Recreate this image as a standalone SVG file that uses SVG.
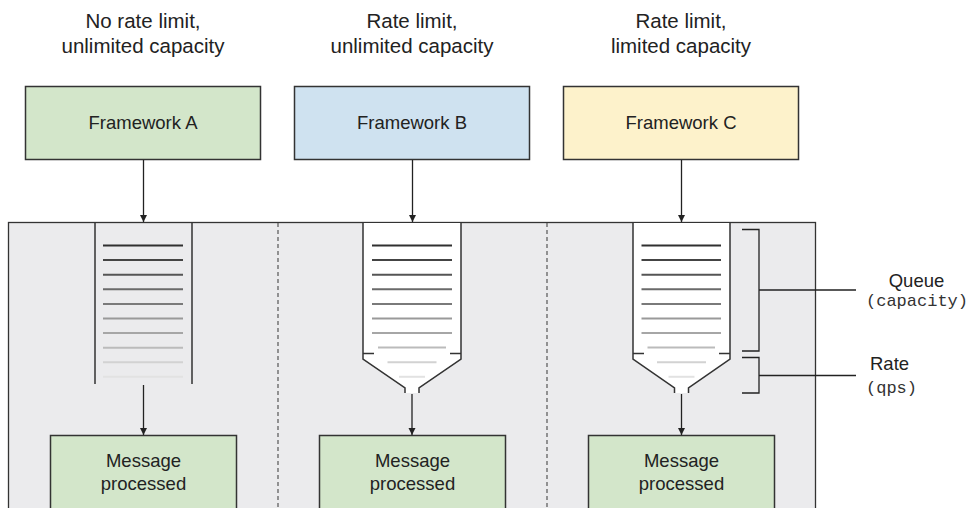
<svg xmlns="http://www.w3.org/2000/svg" width="971" height="508" viewBox="0 0 971 508">
<defs>
<style>
.hdr{font-family:"Liberation Sans",Arial,sans-serif;font-size:20.5px;fill:#222;text-anchor:middle}
.lbl{font-family:"Liberation Sans",Arial,sans-serif;font-size:18.5px;fill:#222;text-anchor:middle}
.side{font-family:"Liberation Sans",Arial,sans-serif;font-size:18.5px;fill:#222}
.mono{font-family:"Liberation Mono","Courier New",monospace;font-size:17px;fill:#333}
.box{stroke:#333;stroke-width:1.5}
.wall{fill:none;stroke:#333;stroke-width:1.5}
.conn{stroke:#222;stroke-width:1.3;fill:none}
.dash{stroke:#555;stroke-width:1.2;stroke-dasharray:4 3}
.l1{stroke:#303030;stroke-width:2}.l2{stroke:#444;stroke-width:2}.l3{stroke:#555;stroke-width:2}
.l4{stroke:#6a6a6a;stroke-width:2}.l5{stroke:#7a7a7a;stroke-width:2}.l6{stroke:#999;stroke-width:2}
.l7{stroke:#a6a6a6;stroke-width:2}.l8{stroke:#bbb;stroke-width:2}.l9{stroke:#d2d2d2;stroke-width:2}
.l10{stroke:#e2e2e2;stroke-width:2}
</style>
<marker id="ah" viewBox="0 0 10 10" refX="10" refY="5" markerWidth="7" markerHeight="9" markerUnits="userSpaceOnUse" orient="auto">
<path d="M0,0 L10,5 L0,10 z" fill="#222"/>
</marker>
</defs>
<rect width="971" height="508" fill="#fff"/>

<!-- headers -->
<g id="header-a"><text class="hdr" x="143" y="28">No rate limit,</text><text class="hdr" x="143" y="53">unlimited capacity</text></g>
<g id="header-b"><text class="hdr" x="412" y="28">Rate limit,</text><text class="hdr" x="412" y="53">unlimited capacity</text></g>
<g id="header-c"><text class="hdr" x="681" y="28">Rate limit,</text><text class="hdr" x="681" y="53">limited capacity</text></g>

<!-- framework boxes -->
<g id="framework-a"><rect class="box" x="25.5" y="86.5" width="235" height="73" fill="#d3e6ca"/><text class="lbl" x="143" y="129">Framework A</text></g>
<g id="framework-b"><rect class="box" x="294.5" y="86.5" width="235" height="73" fill="#cfe2f0"/><text class="lbl" x="412" y="129">Framework B</text></g>
<g id="framework-c"><rect class="box" x="563.5" y="86.5" width="235" height="73" fill="#fdf2cb"/><text class="lbl" x="681" y="129">Framework C</text></g>

<!-- panel -->
<g id="panel">
<rect x="8.5" y="222.5" width="807" height="300" fill="#ebebed" stroke="#333" stroke-width="1.3"/>
<line class="dash" x1="278" y1="223" x2="278" y2="508"/>
<line class="dash" x1="547" y1="223" x2="547" y2="508"/>
</g>

<!-- queue A -->
<g id="queue-a">
<path class="wall" d="M95,223 V384 M192,223 V384"/>
<line class="l1" x1="103" y1="245.5" x2="183" y2="245.5"/>
<line class="l2" x1="103" y1="260" x2="183" y2="260"/>
<line class="l3" x1="103" y1="274.7" x2="183" y2="274.7"/>
<line class="l4" x1="103" y1="289.3" x2="183" y2="289.3"/>
<line class="l5" x1="103" y1="304" x2="183" y2="304"/>
<line class="l6" x1="103" y1="318.5" x2="183" y2="318.5"/>
<line class="l7" x1="103" y1="333" x2="183" y2="333"/>
<line class="l8" x1="103" y1="347.7" x2="183" y2="347.7"/>
<line class="l9" x1="103" y1="362.3" x2="183" y2="362.3"/>
<line class="l10" x1="103" y1="376.8" x2="183" y2="376.8"/>
</g>

<!-- queue B -->
<g id="queue-b">
<path d="M363,223 V359 L405,388 V393 H419 V388 L461,359 V223 Z" fill="#fff"/>
<path class="wall" d="M363,223 V359 L405,388 V393 M461,223 V359 L419,388 V393 M363,353.5 H374 M450,353.5 H461"/>
<line class="l1" x1="372" y1="245.5" x2="452" y2="245.5"/>
<line class="l2" x1="372" y1="260" x2="452" y2="260"/>
<line class="l3" x1="372" y1="274.7" x2="452" y2="274.7"/>
<line class="l4" x1="372" y1="289.3" x2="452" y2="289.3"/>
<line class="l5" x1="372" y1="304" x2="452" y2="304"/>
<line class="l6" x1="372" y1="318.5" x2="452" y2="318.5"/>
<line class="l7" x1="372" y1="333" x2="452" y2="333"/>
<line class="l8" x1="378" y1="347.5" x2="446" y2="347.5"/>
<line class="l9" x1="387.5" y1="362.3" x2="436.5" y2="362.3"/>
<line class="l10" x1="399" y1="376.8" x2="425" y2="376.8"/>
</g>

<!-- queue C -->
<g id="queue-c">
<path d="M633,223 V359 L674.5,388 V393 H688.5 V388 L730,359 V223 Z" fill="#fff"/>
<path class="wall" d="M633,223 V359 L674.5,388 V393 M730,223 V359 L688.5,388 V393 M633,353.5 H644 M719,353.5 H730"/>
<line class="l1" x1="641.5" y1="245.5" x2="721" y2="245.5"/>
<line class="l2" x1="641.5" y1="260" x2="721" y2="260"/>
<line class="l3" x1="641.5" y1="274.7" x2="721" y2="274.7"/>
<line class="l4" x1="641.5" y1="289.3" x2="721" y2="289.3"/>
<line class="l5" x1="641.5" y1="304" x2="721" y2="304"/>
<line class="l6" x1="641.5" y1="318.5" x2="721" y2="318.5"/>
<line class="l7" x1="641.5" y1="333" x2="721" y2="333"/>
<line class="l8" x1="647.5" y1="347.5" x2="715" y2="347.5"/>
<line class="l9" x1="657" y1="362.3" x2="706" y2="362.3"/>
<line class="l10" x1="668.5" y1="376.8" x2="694.5" y2="376.8"/>
</g>

<!-- brackets and side labels -->
<g id="queue-label">
<path class="conn" d="M742,229.5 H759 V351 H742 M759,290 H856"/>
<text class="side" x="916.5" y="287" text-anchor="middle">Queue</text>
<text class="mono" x="866" y="306">(capacity)</text>
</g>
<g id="rate-label">
<path class="conn" d="M742,357.5 H759 V393 H742 M759,375.5 H856"/>
<text class="side" x="870" y="370">Rate</text>
<text class="mono" x="866" y="393">(qps)</text>
</g>

<!-- message boxes -->
<g id="message-a"><rect class="box" x="50.5" y="435.5" width="186" height="90" fill="#d3e6ca"/><text class="lbl" x="143.5" y="467">Message</text><text class="lbl" x="143.5" y="490">processed</text></g>
<g id="message-b"><rect class="box" x="319.5" y="435.5" width="186" height="90" fill="#d3e6ca"/><text class="lbl" x="412.5" y="467">Message</text><text class="lbl" x="412.5" y="490">processed</text></g>
<g id="message-c"><rect class="box" x="588.5" y="435.5" width="186" height="90" fill="#d3e6ca"/><text class="lbl" x="681.5" y="467">Message</text><text class="lbl" x="681.5" y="490">processed</text></g>

<!-- connectors -->
<g id="connectors">
<line class="conn" x1="143.5" y1="160" x2="143.5" y2="222" marker-end="url(#ah)"/>
<line class="conn" x1="412.5" y1="160" x2="412.5" y2="222" marker-end="url(#ah)"/>
<line class="conn" x1="681.5" y1="160" x2="681.5" y2="222" marker-end="url(#ah)"/>
<line class="conn" x1="143.5" y1="385" x2="143.5" y2="435" marker-end="url(#ah)"/>
<line class="conn" x1="412" y1="394" x2="412" y2="435" marker-end="url(#ah)"/>
<line class="conn" x1="681.5" y1="394" x2="681.5" y2="435" marker-end="url(#ah)"/>
</g>
</svg>
